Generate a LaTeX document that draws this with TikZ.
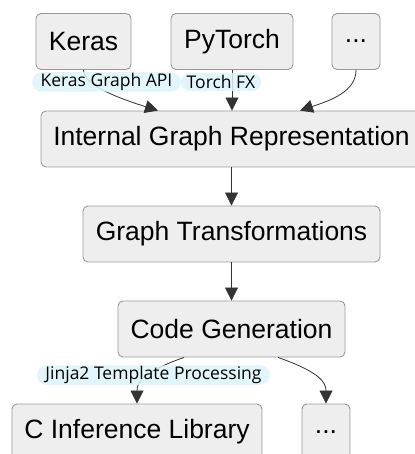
\documentclass[tikz,border=0pt]{standalone}
\usepackage{fontspec}
\setmainfont{Liberation Sans}
\newfontfamily\labelfont{Open Sans}
\usepackage{xcolor}
\usetikzlibrary{positioning,shapes,calc,arrows.meta}

\definecolor{boxfill}{HTML}{EEEEEE}
\definecolor{boxline}{HTML}{999999}
\definecolor{edgeline}{HTML}{333333}
\definecolor{pillfill}{HTML}{DCF5FA}

\tikzset{
  stage/.style={draw=boxline, fill=boxfill, rounded corners=5pt, line width=0.9pt,
    minimum height=56pt, inner sep=0pt, font=\fontsize{26.5}{30}\selectfont},
  flow/.style={->, draw=edgeline, line width=0.8pt},
  pill/.style={rounded rectangle, fill=pillfill, fill opacity=0.85, text opacity=1,
    inner xsep=3pt, inner ysep=1pt, minimum height=18pt, font=\labelfont\fontsize{17.5}{19}\selectfont}
}

\begin{document}
\begin{tikzpicture}[x=1pt, y=-1pt, >={Triangle[length=13pt,width=13pt]}]
  \useasboundingbox (0,0) rectangle (414,454);
  % frontends
  \node[stage, minimum width=95pt]  (keras) at (83.5,41.5) {Keras};
  \node[stage, minimum width=122pt] (torch) at (232,41.5)  {PyTorch};
  \node[stage, minimum width=48pt]  (other) at (356,41.5)  {...};
  % pipeline
  \node[stage, minimum width=381pt] (igr) at (231.5,139) {Internal Graph Representation};
  \node[stage, minimum width=297pt] (gt)  at (231.5,234) {Graph Transformations};
  \node[stage, minimum width=227pt] (cg)  at (231.5,329) {Code Generation};
  % backends
  \node[stage, minimum width=250pt] (clib) at (137,432) {C Inference Library};
  \node[stage, minimum width=48pt]  (more) at (326,432) {...};

  \draw[flow] (keras.south) .. controls +(0,14) and +(-45,-14) .. ([xshift=-73.5pt]igr.north);
  \draw[flow] (torch.south) -- (igr.north -| torch.south);
  \draw[flow] (other.south) .. controls +(0,22) and +(30,-10) .. ([xshift=68.5pt]igr.north);
  \draw[flow] (igr) -- (gt);
  \draw[flow] (gt) -- (cg);
  \draw[flow] ([xshift=-47.5pt]cg.south) .. controls +(-40,14) and +(0,-22) .. (clib.north);
  \draw[flow] ([xshift=46.5pt]cg.south) .. controls +(40,14) and +(0,-22) .. (more.north);

  % edge labels
  \node[pill] (kerasapi) at (106.5,82)  {Keras Graph API};
  \node[pill] (torchfx)  at (221,82)    {Torch FX};
  \node[pill] (jinja)    at (153.5,375) {Jinja2 Template Processing};
\end{tikzpicture}
\end{document}
